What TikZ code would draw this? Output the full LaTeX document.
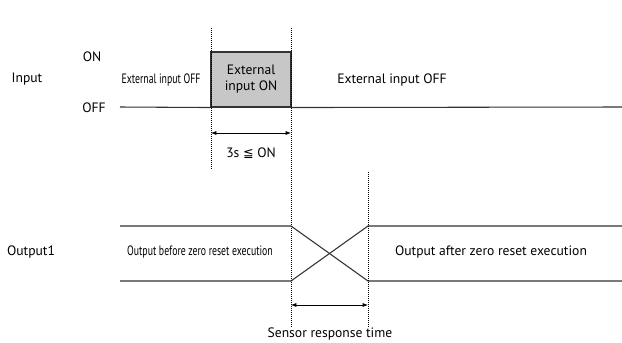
\documentclass[tikz,border=0pt]{standalone}
\usepackage{fontspec}
\setmainfont{PT Sans}
\newfontfamily\symfont{DejaVu Sans}
\usetikzlibrary{positioning,arrows.meta}
\newcommand{\narrow}[1]{\scalebox{0.72}[1]{#1}}
\begin{document}
\begin{tikzpicture}[x=0.75pt, y=-0.75pt, font=\fontsize{10.2}{12}\selectfont,
    sig/.style={draw=black!80, line width=0.8pt},
    guide/.style={densely dotted, line width=0.5pt},
    span/.style={{Latex[length=4pt,width=3pt]}-{Latex[length=4pt,width=3pt]}, line width=0.5pt}]
    \useasboundingbox (0,0) rectangle (622,343);

    % Input signal
    \begin{scope}
        \node (input) at (27,79) {Input};
        \node (on) at (92,57) {ON};
        \node (off) at (94,108) {OFF};
        \coordinate (inL) at (120,107);
        \coordinate (inR) at (622,107);
        \node[sig, fill=black!22, minimum width=80*0.75pt, minimum height=55*0.75pt,
              inner sep=0pt, align=center] (pulse) at (251,79.5) {External\\input ON};
        \draw[sig] (inL) -- (pulse.south west) (pulse.south east) -- (inR);
        \node (offA) at (161,80) {\narrow{External input OFF}};
        \node (offB) at (392,80) {External input OFF};
    \end{scope}

    % Output signal
    \begin{scope}
        \node (output) at (31,252) {Output1};
        \coordinate (hiL) at (120,226);
        \coordinate (loL) at (120,281);
        \coordinate (hiA) at (291,226);
        \coordinate (loA) at (291,281);
        \coordinate (hiB) at (368,226);
        \coordinate (loB) at (368,281);
        \coordinate (hiR) at (622,226);
        \coordinate (loR) at (622,281);
        \draw[sig] (hiL) -- (hiA) -- (loB) -- (loR);
        \draw[sig] (loL) -- (loA) -- (hiB) -- (hiR);
        \node (before) at (200,252) {\narrow{Output before zero reset execution}};
        \node (after) at (491,252) {Output after zero reset execution};
    \end{scope}

    % Timing guides
    \coordinate (g1t) at (211,28);
    \coordinate (g1b) at (211,170);
    \coordinate (g2t) at (291,28);
    \coordinate (g2b) at (291,327);
    \coordinate (g3t) at (368,172);
    \coordinate (g3b) at (368,327);
    \draw[guide] (g1t) -- (g1b);
    \draw[guide] (g2t) -- (g2b);
    \draw[guide] (g3t) -- (g3b);

    \coordinate (a1) at (211,133);
    \coordinate (a2) at (291,133);
    \draw[span] (a1) -- (a2);
    \node (minon) at (251,153) {3s {\symfont\fontsize{9.5}{11}\selectfont ≦} ON};

    \coordinate (b1) at (291,305);
    \coordinate (b2) at (368,305);
    \draw[span] (b1) -- (b2);
    \node (resp) at (330,334) {Sensor response time};
\end{tikzpicture}
\end{document}
